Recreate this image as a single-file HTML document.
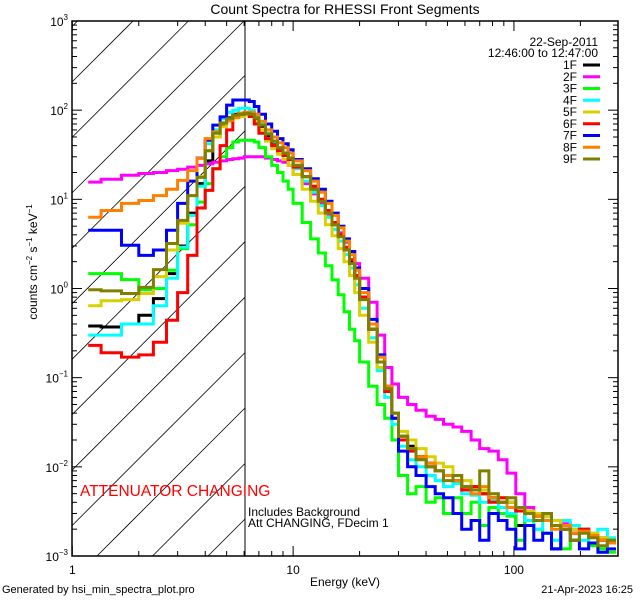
<!DOCTYPE html>
<html><head><meta charset="utf-8"><style>
html,body{margin:0;padding:0;background:#fff;width:640px;height:600px;overflow:hidden;}
svg{display:block;font-family:"Liberation Sans",sans-serif;overflow:hidden;}
</style></head><body>
<svg id="chart" width="640" height="600" viewBox="0 0 640 600" xmlns="http://www.w3.org/2000/svg">
<rect width="640" height="600" fill="#fff"/>
<text x="345" y="14" font-size="14" text-anchor="middle">Count Spectra for RHESSI Front Segments</text>
<defs><clipPath id="plotclip"><rect x="72" y="21" width="546" height="535"/></clipPath></defs>
<g id="hatch"></g>
<line x1="245" y1="21" x2="245" y2="556" stroke="#000" stroke-width="1"/>
<g id="series" clip-path="url(#plotclip)"></g>
<rect x="72" y="21" width="546" height="535" fill="none" stroke="#000" stroke-width="1.5"/>
<g id="axes"></g>
<text x="345" y="586" font-size="12" text-anchor="middle">Energy (keV)</text>
<text transform="translate(37,262) rotate(-90)" font-size="12" text-anchor="middle">counts cm<tspan font-size="8" dy="-5">−2</tspan><tspan dy="5"> s</tspan><tspan font-size="8" dy="-5">−1</tspan><tspan dy="5"> keV</tspan><tspan font-size="8" dy="-5">−1</tspan></text>
<text x="80" y="496" font-size="15.5" fill="#ff0000">ATTENUATOR CHANGING</text>
<text x="248" y="516" font-size="12">Includes Background</text>
<text x="248" y="527" font-size="12">Att CHANGING, FDecim  1</text>
<text x="2" y="593" font-size="11">Generated by hsi_min_spectra_plot.pro</text>
<text x="633" y="593" font-size="11" text-anchor="end">21-Apr-2023 16:25</text>
<text x="598" y="46" font-size="12" text-anchor="end">22-Sep-2011</text>
<text x="598" y="57" font-size="12" text-anchor="end">12:46:00 to 12:47:00</text>
<g id="legend"></g>
</svg>
<script>
const edges = [1.18,1.35,1.67,2,2.33,2.67,3,3.33,3.67,4,4.33,4.67,5,5.33,5.67,6,6.33,6.67,7,7.5,8,8.5,9,9.5,10,11,12,13,14,15,16,17,18,19,20,22,24,26,28,30,33,36,40,44,48,53,58,64,70,77,85,93,102,112,123,135,148,163,180,198,218,240,265,290];
const seriesNames = ["1F","2F","3F","4F","5F","6F","7F","8F","9F"];
const seriesColors = ["#000000","#ff00ff","#00ff00","#00ffff","#d8d000","#ff0000","#0000ff","#ff8000","#808000"];
const s1F = [0.38,0.37,0.40,0.5,0.77,1.47,3.0,7,15,27,50,70,82,90,92, 92,90,80,66,52,43,37,33,29, 24,18,13,9.5,7,5.2,3.9,2.8,2,1.35, 0.8,0.35,0.15,0.075,0.04,0.022,0.017,0.013,0.011,0.009, 0.008,0.007,0.006,0.0055,0.005,0.0045,0.004,0.004,0.0022,0.003, 0.0028,0.0025,0.0012,0.0022,0.0018,0.002,0.0017,0.0015,0.0014];
const s2F = [15.6,16.8,18.6,19.5,20,21,21.7,23,24,25,26,27,28,28.5,29, 30,30,30,30,29,28,27,26,24, 19,15,11.5,8.8,6.8,5.3,4.2,3.3,2.6,1.9, 1.3,0.7,0.3,0.13,0.085,0.06,0.05,0.043,0.037,0.034, 0.03,0.028,0.025,0.02,0.016,0.015,0.012,0.0085,0.005,0.0035, 0.003,0.0028,0.0025,0.0023,0.002,0.0019,0.0017,0.0016,0.0015];
const s3F = [1.47,1.47,1.26,0.97,1.0,1.6,2.8,5.2,9.3,15,22,30,38,44,46, 46,46,44,38,30,24,20,16,13, 9,5.5,3.6,2.5,1.8,1.25,0.85,0.55,0.35,0.26, 0.15,0.08,0.05,0.035,0.02,0.008,0.005,0.006,0.004,0.0045, 0.003,0.0045,0.003,0.004,0.0022,0.0035,0.003,0.0028,0.0015,0.0025, 0.002,0.0018,0.0025,0.0012,0.0015,0.002,0.0013,0.0012,0.0011];
const s4F = [0.30,0.30,0.40,0.40,0.64,1.3,2.9,6.6,14,42,60,80,95,100,105, 105,100,88,72,55,44,37,32,28, 22,16,12,8.5,6.3,4.6,3.4,2.4,1.7,1.1, 0.6,0.28,0.12,0.06,0.03,0.017,0.012,0.01,0.008,0.007, 0.006,0.0065,0.005,0.0048,0.004,0.0042,0.0035,0.003,0.0032,0.0025, 0.002,0.0028,0.0015,0.0025,0.0022,0.0015,0.0018,0.002,0.0016];
const s5F = [0.64,0.73,0.75,0.88,1.36,2.7,5.4,11,18,35,50,65,75,82,85, 88,85,75,60,45,37,32,28,24, 19,13,9.5,7,5.2,3.9,2.8,2,1.4,0.9, 0.5,0.25,0.13,0.07,0.04,0.025,0.02,0.016,0.013,0.011, 0.01,0.008,0.007,0.006,0.0055,0.005,0.0045,0.004,0.0035,0.0032, 0.003,0.0028,0.0025,0.0022,0.002,0.0019,0.0018,0.0016,0.0015];
const s6F = [0.23,0.19,0.17,0.18,0.25,0.44,0.9,2.35,8,12.6,22,40,60,85,90, 92,85,70,55,48,40,35,31,28, 23,18,14,10,7.5,5.5,4,2.9,2.1,1.4, 0.8,0.35,0.15,0.07,0.035,0.02,0.015,0.013,0.01,0.009, 0.008,0.007,0.0055,0.006,0.005,0.004,0.0045,0.0035,0.0032,0.003, 0.0028,0.0025,0.0022,0.002,0.0018,0.002,0.0017,0.0015,0.0014];
const s7F = [4.5,4.5,3.05,2.35,2.7,4.5,9,16,29,46,68,84,114,130,130, 130,125,110,90,70,58,48,42,36, 28,22,17,13,9.5,7,5,3.6,2.6,1.7, 1.0,0.45,0.18,0.08,0.035,0.015,0.01,0.008,0.006,0.005, 0.0045,0.003,0.002,0.0025,0.0015,0.003,0.0025,0.002,0.0012,0.0022, 0.0015,0.0018,0.0012,0.002,0.0015,0.0012,0.0014,0.0011,0.0012];
const s8F = [6.3,7.5,9,9.7,11,13,16.3,21,28.8,48,57,71,77,83,92, 95,95,90,75,60,50,43,38,33, 27,21,16,12,9,6.6,4.8,3.4,2.4,1.6, 0.9,0.4,0.17,0.08,0.04,0.022,0.016,0.013,0.011,0.009, 0.008,0.007,0.006,0.005,0.006,0.0045,0.004,0.0035,0.0035,0.003, 0.0028,0.0025,0.002,0.0022,0.0018,0.0019,0.0017,0.0015,0.0014];
const s9F = [0.97,0.94,0.88,1.03,1.63,3.2,5.8,11,17.6,35,55,72,80,88,90, 92,90,82,68,54,45,38,33,29, 24,18,13,9.5,7,5.2,3.8,2.7,1.9,1.3, 0.75,0.35,0.15,0.075,0.04,0.022,0.016,0.012,0.01,0.009, 0.007,0.008,0.006,0.0055,0.009,0.005,0.004,0.0045,0.0035,0.003, 0.0025,0.003,0.0022,0.002,0.0015,0.0018,0.0016,0.0013,0.0015];
const seriesValues = [s1F,s2F,s3F,s4F,s5F,s6F,s7F,s8F,s9F];
const yTickExps = [-3,-2,-1,0,1,2,3];
const xTickLabels = ["1","10","100"];
const xTickValues = [1,10,100];

const NS="http://www.w3.org/2000/svg";
const X0=72,X1=618,Y0=21,Y1=556;
const xMin=Math.log10(0.997),xMax=Math.log10(296);
const yMin=-3,yMax=3;
function xs(e){return X0+(Math.log10(e)-xMin)/(xMax-xMin)*(X1-X0);}
function ys(v){return Y1-(Math.log10(v)-yMin)/(yMax-yMin)*(Y1-Y0);}
function mk(tag,attrs,parent){const el=document.createElementNS(NS,tag);for(const k in attrs)el.setAttribute(k,attrs[k]);parent.appendChild(el);return el;}

// hatch lines x+y=c, clipped to [72,245]x[21,556]
const hatch=document.getElementById('hatch');
const HX1=245;
for(let k=-3;k<=14;k++){
  const c=154+k*55.45;
  let xa=Math.max(X0,c-Y1), xb=Math.min(HX1,c-Y0);
  if(xb<=xa) continue;
  const el=mk('line',{x1:xa.toFixed(1),y1:(c-xa).toFixed(1),x2:xb.toFixed(1),y2:(c-xb).toFixed(1),stroke:'#000','stroke-width':0.8},hatch);
  
  
}

const sg=document.getElementById('series');
seriesValues.forEach((vals,i)=>{
  let d='';
  vals.forEach((v,j)=>{
    const xa=xs(edges[j]).toFixed(1),xb=Math.min(xs(edges[j+1]),X1).toFixed(1),y=Math.min(ys(v),Y1+1).toFixed(1);
    d+=(j===0?'M':'L')+xa+','+y+'L'+xb+','+y;
  });
  const p=mk('path',{d:d,fill:'none',stroke:seriesColors[i],'stroke-width':3,'stroke-linejoin':'miter'},sg);
  
  
});

const ax=document.getElementById('axes');
yTickExps.forEach(e=>{
  const y=ys(Math.pow(10,e));
  [[X0,X0+10],[X1,X1-10]].forEach(([a,b])=>{
    const t=mk('line',{x1:a,y1:y,x2:b,y2:y,stroke:'#000'},ax);
    
    
  });
  const lb=mk('text',{x:X0-4,y:y+5,'font-size':12,'text-anchor':'end'},ax);
  
  
  lb.innerHTML='10<tspan font-size="8" dy="-6">'+(e<0?'−'+(-e):e)+'</tspan>';
  if(e<3){for(let m=2;m<10;m++){const ym=ys(m*Math.pow(10,e));
    [[X0,X0+5],[X1,X1-5]].forEach(([a,b])=>{
      const t=mk('line',{x1:a,y1:ym,x2:b,y2:ym,stroke:'#000'},ax);
      
      
    });}}
});
xTickValues.forEach((v,i)=>{
  const x=xs(v);
  [[Y1,Y1-10],[Y0,Y0+10]].forEach(([a,b])=>{
    const t=mk('line',{x1:x,y1:a,x2:x,y2:b,stroke:'#000'},ax);
    
    
  });
  const lb=mk('text',{x:x,y:Y1+18,'font-size':12,'text-anchor':'middle'},ax);
  
  
  lb.textContent=xTickLabels[i];
  for(let m=2;m<10;m++){const vm=m*v;if(vm>296)break;const xm=xs(vm);
    [[Y1,Y1-5],[Y0,Y0+5]].forEach(([a,b])=>{
      const t=mk('line',{x1:xm,y1:a,x2:xm,y2:b,stroke:'#000'},ax);
      
      
    });}
});

const lg=document.getElementById('legend');
seriesNames.forEach((n,i)=>{
  const y=69+i*11.75;
  const t=mk('text',{x:577,y:y,'font-size':12,'text-anchor':'end'},lg);
  
  
  t.textContent=n;
  const l=mk('line',{x1:583,y1:y-4,x2:600,y2:y-4,stroke:seriesColors[i],'stroke-width':3},lg);
  
  
});
</script>
</body></html>
